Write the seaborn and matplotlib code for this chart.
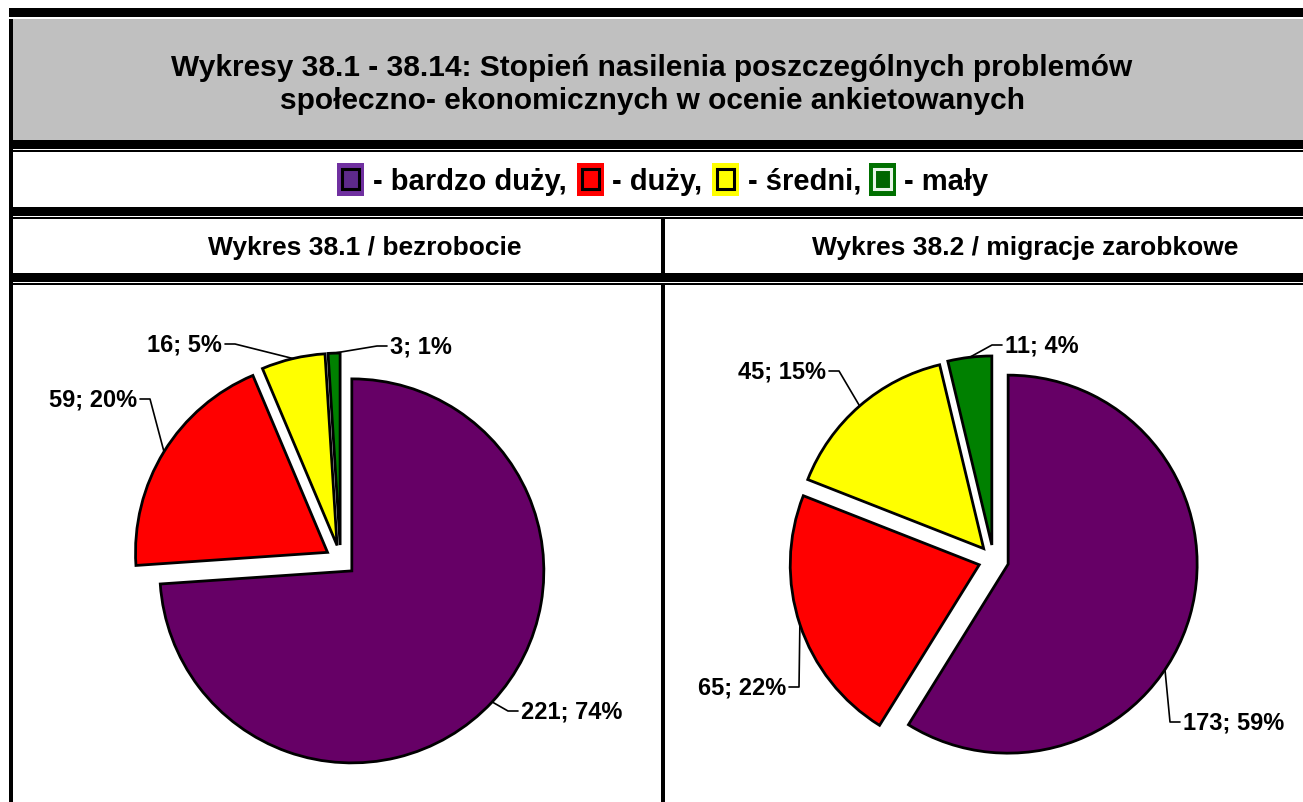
import numpy as np
import matplotlib
matplotlib.use("Agg")
import matplotlib.pyplot as plt
from matplotlib.patches import Rectangle
import seaborn as sns

# ======================================
# DATA
# ======================================

categories = ["bardzo duży", "duży", "średni", "mały"]
bezrobocie = [221, 59, 16, 3]
migracje = [173, 65, 45, 11]

title_lines = [
    "Wykresy 38.1 - 38.14: Stopień nasilenia poszczególnych problemów",
    "społeczno- ekonomicznych w ocenie ankietowanych",
]
panel_titles = ["Wykres 38.1 / bezrobocie", "Wykres 38.2 / migracje zarobkowe"]

# ======================================
# STYLE
# ======================================

sns.set_theme(style="white")
plt.rcParams["font.family"] = ["Liberation Sans", "DejaVu Sans"]
plt.rcParams["font.weight"] = "bold"
plt.rcParams["text.color"] = "black"

pie_colors = ["#660066", "#FF0000", "#FFFF00", "#008000"]
legend_outer = ["#7030A0", "#FF0000", "#FFFF00", "#007000"]
legend_inner = ["#5E2A8A", "#FF0000", "#FFFF00", "#006600"]
legend_inner_edge = ["black", "black", "black", "#E8F4E8"]

W, H = 1303, 803
fig = plt.figure(figsize=(W / 100, H / 100), dpi=100)
ax = fig.add_axes([0, 0, 1, 1])


def rect(x0, y0, x1, y1, color):
    ax.add_patch(Rectangle((x0, y0), x1 - x0, y1 - y0, facecolor=color,
                           edgecolor="none", zorder=1))


# ======================================
# TABLE FRAME
# ======================================

rect(9, 9, W, 18, "black")
rect(13, 20, W, 141, "#C0C0C0")
rect(9, 20, 13, H, "black")
for y0 in [141, 208, 274]:
    rect(9, y0, W, y0 + 8.5, "black")
    rect(9, y0 + 10, W, y0 + 12, "black")
rect(661, 219, 665, 274, "black")
rect(661, 286, 665, H, "black")

# title
ax.text(652, 68, title_lines[0], ha="center", va="center", fontsize=21.5,
        fontweight="bold")
ax.text(652, 101, title_lines[1], ha="center", va="center", fontsize=21.5,
        fontweight="bold")

# legend row
box_x = [337, 577, 712, 869]
text_x = [373, 612, 748, 904]
legend_txt = ["- " + c + "," for c in categories[:-1]] + ["- " + categories[-1]]
for i in range(len(categories)):
    rect(box_x[i], 164, box_x[i] + 27, 197, legend_outer[i])
    ax.add_patch(Rectangle((box_x[i] + 5, 170), 17, 20,
                           facecolor=legend_inner[i],
                           edgecolor=legend_inner_edge[i], linewidth=2.2,
                           zorder=2))
    ax.text(text_x[i], 182, legend_txt[i], ha="left", va="center",
            fontsize=21, fontweight="bold")

# panel titles
ax.text(365, 248, panel_titles[0], ha="center", va="center", fontsize=19,
        fontweight="bold")
ax.text(1025, 248, panel_titles[1], ha="center", va="center", fontsize=19,
        fontweight="bold")

# ======================================
# PIES
# ======================================

# label layout: text x, text y, alignment, shift of leader anchor (deg)
pies = [
    dict(values=bezrobocie, center=(340.6, 561.4), radius=192,
         labels=[(521, 712, "left", 0), (137, 400, "right", 0),
                 (222, 345, "right", 0), (390, 347, "left", 0)]),
    dict(values=migracje, center=(993.6, 561.0), radius=189,
         labels=[(1183, 723, "left", 18), (786, 688, "right", 0),
                 (826, 372, "right", 0), (1005, 346, "left", 0)]),
]

for p in pies:
    vals = np.array(p["values"])
    total = vals.sum()
    wedges, _ = ax.pie(
        vals,
        colors=pie_colors,
        startangle=-90,
        counterclock=True,
        center=p["center"],
        radius=p["radius"],
        explode=[0.08 * p["radius"]] * len(vals),
        wedgeprops=dict(edgecolor="black", linewidth=2),
    )
    for w, v, (tx, ty, ha, shift) in zip(wedges, vals, p["labels"]):
        mid = np.deg2rad((w.theta1 + w.theta2) / 2 + shift)
        cx, cy = w.center
        anchor = (cx + w.r * np.cos(mid), cy + w.r * np.sin(mid))
        sgn = -1 if ha == "left" else 1
        xs = [anchor[0], tx + sgn * 13, tx + sgn * 3]
        ys = [anchor[1], ty, ty]
        ax.plot(xs, ys, color="black", linewidth=1.2, zorder=3)
        ax.text(tx, ty, f"{v}; {round(100 * v / total)}%", ha=ha,
                va="center", fontsize=17, fontweight="bold")

ax.set_xlim(0, W)
ax.set_ylim(H, 0)
ax.set_aspect("auto")
ax.axis("off")

fig.savefig("out.png", dpi=100, facecolor="white")
